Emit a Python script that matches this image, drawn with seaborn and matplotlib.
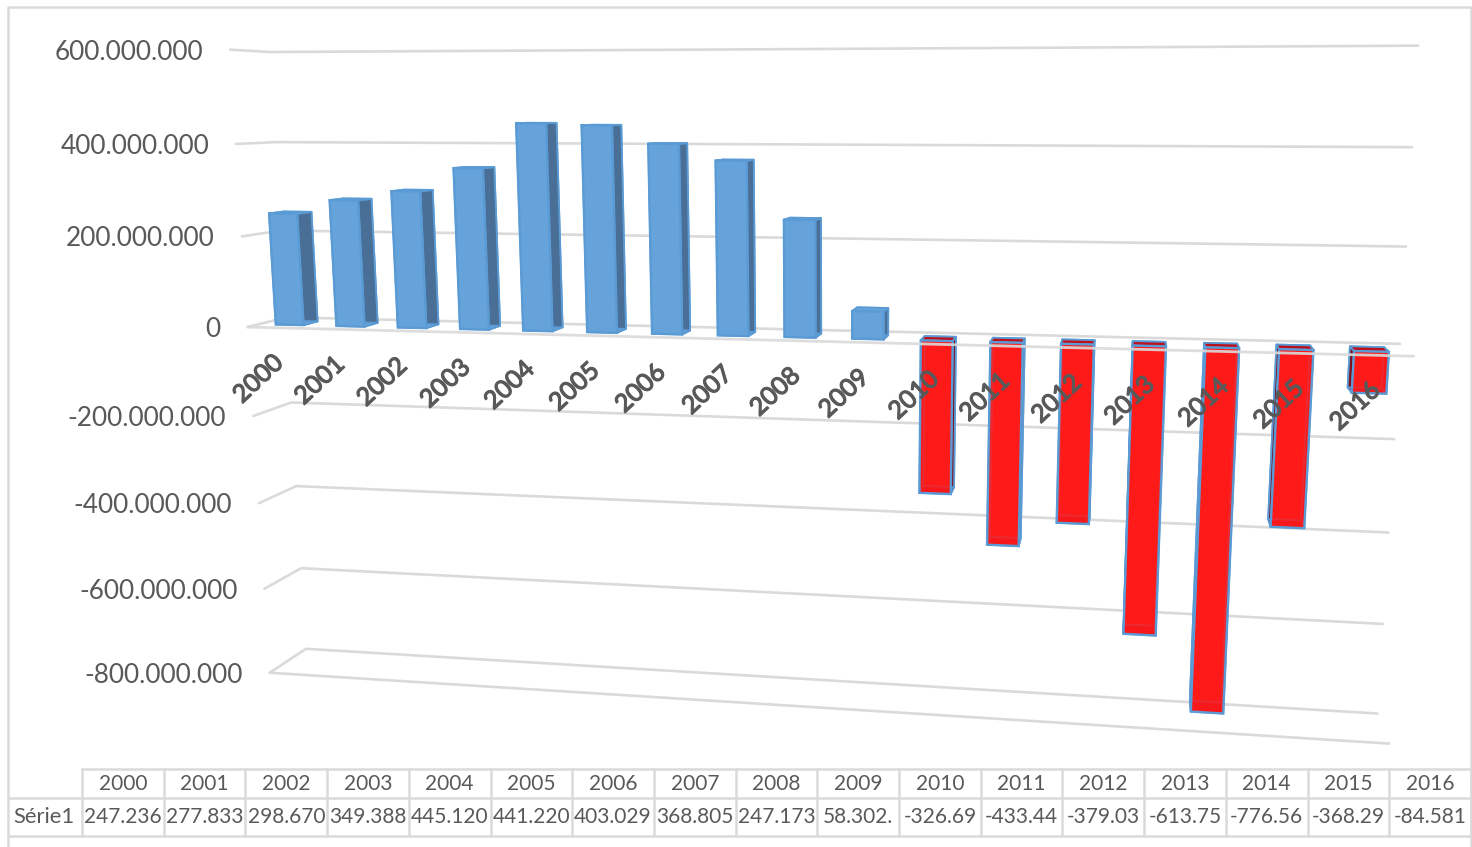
import numpy as np
import pandas as pd
import seaborn as sns
import matplotlib
matplotlib.use("Agg")
import matplotlib.pyplot as plt
import matplotlib.patheffects as pe
from matplotlib.transforms import Transform

# Chart values (millions) and labels
anos = ["2000", "2001", "2002", "2003", "2004", "2005", "2006", "2007", "2008",
        "2009", "2010", "2011", "2012", "2013", "2014", "2015", "2016"]
valores = [247.236, 277.833, 298.670, 349.388, 445.120, 441.220, 403.029, 368.805, 247.173,
           58.302, -326.69, -433.44, -379.03, -613.75, -776.56, -368.29, -84.581]
tabela = ["247.236", "277.833", "298.670", "349.388", "445.120", "441.220", "403.029", "368.805", "247.173",
          "58.302.", "-326.69", "-433.44", "-379.03", "-613.75", "-776.56", "-368.29", "-84.581"]
ticks = [600, 400, 200, 0, -200, -400, -600, -800]
tick_labels = ["600.000.000", "400.000.000", "200.000.000", "0", "-200.000.000",
               "-400.000.000", "-600.000.000", "-800.000.000"]

# Camera calibration: (x position, value, depth) -> pixel, depth 0 = front, 1 = back wall
L, R = -0.5, 16.5
calib = [
    (L, 600, 1, 272, 52), (L, 400, 1, 275, 142), (L, -200, 1, 291, 403), (L, -400, 1, 296, 486),
    (L, -600, 1, 301, 568), (L, -800, 1, 306, 648),
    (R, 600, 1, 1418, 45), (R, 400, 1, 1412, 147), (R, 200, 1, 1406, 246), (R, 0, 1, 1400, 345),
    (R, -200, 1, 1394, 440), (R, -400, 1, 1388, 533), (R, -600, 1, 1383, 624), (R, -800, 1, 1378, 713),
    (L, 600, 0, 230, 48), (L, 400, 0, 236, 145), (L, 0, 0, 248, 327), (L, -200, 0, 253, 417),
    (L, -400, 0, 259, 504), (L, -600, 0, 264, 589), (L, -800, 0, 270, 672),
    (R, 0, 0, 1413, 356), (R, -800, 0, 1390, 743),
]
rows = []
for X, Y, Z, u, v in calib:
    p = [X / 17, Y / 800, Z, 1]
    rows.append(p + [0, 0, 0, 0] + [-u * c for c in p])
    rows.append([0, 0, 0, 0] + p + [-v * c for c in p])
P = np.linalg.svd(np.array(rows, dtype=float))[2][-1].reshape(3, 4)


def proj(x, y, z):
    x, y, z = np.asarray(x, float), np.asarray(y, float), np.broadcast_to(z, np.shape(x))
    h = P @ np.vstack([x / 17, y / 800, z, np.ones_like(x)])
    return h[0] / h[2], h[1] / h[2]


class Persp(Transform):
    # puts (x position, value) on the plane of a given depth
    input_dims = output_dims = 2

    def __init__(self, z):
        super().__init__()
        self.z = z

    def transform_non_affine(self, values):
        return np.column_stack(proj(values[:, 0], values[:, 1], self.z))


sns.set_theme(style="white")
plt.rcParams["font.family"] = ["Lato", "DejaVu Sans"]
cor_texto = "#595959"
cor_grade = "#DADADA"
azul = "#66A3DB"
borda = "#5B9BD5"
vermelho = "#FF1A1A"

df = pd.DataFrame({"ano": anos, "valor": valores})
df["sinal"] = np.where(df["valor"] >= 0, "pos", "neg")

fig, ax = plt.subplots(figsize=(14.72, 8.47), dpi=100)
ax.set_position([0, 0, 1, 1])
sns.barplot(data=df, x="ano", y="valor", hue="sinal", hue_order=["pos", "neg"],
            palette={"pos": azul, "neg": vermelho}, dodge=False, width=0.46,
            saturation=1, legend=False, ax=ax)
ax.set_xlim(0, 1472)
ax.set_ylim(847, 0)
ax.set_axis_off()
ax.set_xlabel("")
ax.set_ylabel("")

# Walls and floor lines
for t, lab in zip(ticks, tick_labels):
    xs, ys = proj([L, L, R], [t, t, t], [0, 1, 1])
    ax.plot(xs, ys, color=cor_grade, lw=1.9, zorder=1, solid_capstyle="round")
    ax.text(xs[0] - 27, ys[0] + 2.5, lab, ha="right", va="center", fontsize=18.9, color=cor_texto)
xs, ys = proj([L, R], [-800, -800], [0, 0])
ax.plot(xs, ys, color=cor_grade, lw=1.9, zorder=1)
xs, ys = proj([L, R], [0, 0], [0, 0])
ax.plot(xs, ys, color=cor_grade, lw=2.0, zorder=6, alpha=0.9)

# Bars: seaborn's rectangles become the front faces, depth faces come from the same numbers
z_front, z_back = 0.3, 0.68
persp_front = Persp(z_front) + ax.transData
for bar in ax.patches:
    x0, x1 = bar.get_x(), bar.get_x() + bar.get_width()
    v = bar.get_height()
    neg = v < 0
    base = bar.get_facecolor()
    dark = "#4A6F96" if not neg else "#7E0F1C"
    roof = azul if not neg else "#BC101C"
    # a side only looks dark where it sticks out past the front face
    left_seen = proj([x0], [0], [z_back])[0][0] < proj([x0], [0], [z_front])[0][0]
    right_seen = proj([x1], [0], [z_back])[0][0] > proj([x1], [0], [z_front])[0][0]
    hidden = azul if not neg else "#E01018"
    quads = [
        ([x0, x1, x1, x0], [0, 0, v, v], [z_back] * 4, base),
        ([x0, x0, x0, x0], [0, v, v, 0], [z_front, z_front, z_back, z_back], dark if left_seen else hidden),
        ([x1, x1, x1, x1], [0, v, v, 0], [z_front, z_front, z_back, z_back], dark if right_seen else hidden),
        ([x0, x1, x1, x0], [0, 0, 0, 0], [z_front, z_front, z_back, z_back], roof),
        ([x0, x1, x1, x0], [v, v, v, v], [z_front, z_front, z_back, z_back], roof),
    ]
    for qx, qy, qz, c in quads:
        px, py = proj(qx, qy, qz)
        ax.fill(px, py, facecolor=c, edgecolor=borda, lw=1.3, zorder=3, joinstyle="round")
    bar.set_transform(persp_front)
    bar.set_alpha(None)
    bar.set_facecolor((*base[:3], 0.88))
    bar.set_edgecolor(borda)
    bar.set_linewidth(1.7)
    bar.set_zorder(4)

# Year labels under the front axis
for i, ano in enumerate(anos):
    px, py = proj([i], [0], [0])
    ax.text(px[0] - 20, py[0] + 51, ano, rotation=43, rotation_mode="anchor", ha="center", va="center",
            fontsize=18, color=cor_texto, zorder=7,
            path_effects=[pe.withStroke(linewidth=0.9, foreground=cor_texto)])

# Data table and chart frame
col_left = 82
col_right = 1471
col_w = (col_right - col_left) / len(anos)
for i in range(len(anos) + 1):
    ax.plot([col_left + i * col_w] * 2, [769, 836], color=cor_grade, lw=1.8, zorder=1)
ax.plot([col_left, col_right], [769, 769], color=cor_grade, lw=1.8, zorder=1)
ax.plot([8, col_right], [798, 798], color=cor_grade, lw=1.8, zorder=1)
ax.plot([8, col_right], [836, 836], color=cor_grade, lw=1.8, zorder=1)
ax.plot([8, 8, col_right, col_right], [847, 7, 7, 847], color=cor_grade, lw=1.8, zorder=1)
ax.text(44, 817, "Série1", ha="center", va="center", fontsize=15.8, color=cor_texto)
for i, (ano, val) in enumerate(zip(anos, tabela)):
    cx = col_left + (i + 0.5) * col_w
    ax.text(cx, 784, ano, ha="center", va="center", fontsize=15, color=cor_texto)
    ax.text(cx, 817, val, ha="center", va="center", fontsize=15, color=cor_texto)

fig.savefig("out.png", dpi=100, facecolor="white")
